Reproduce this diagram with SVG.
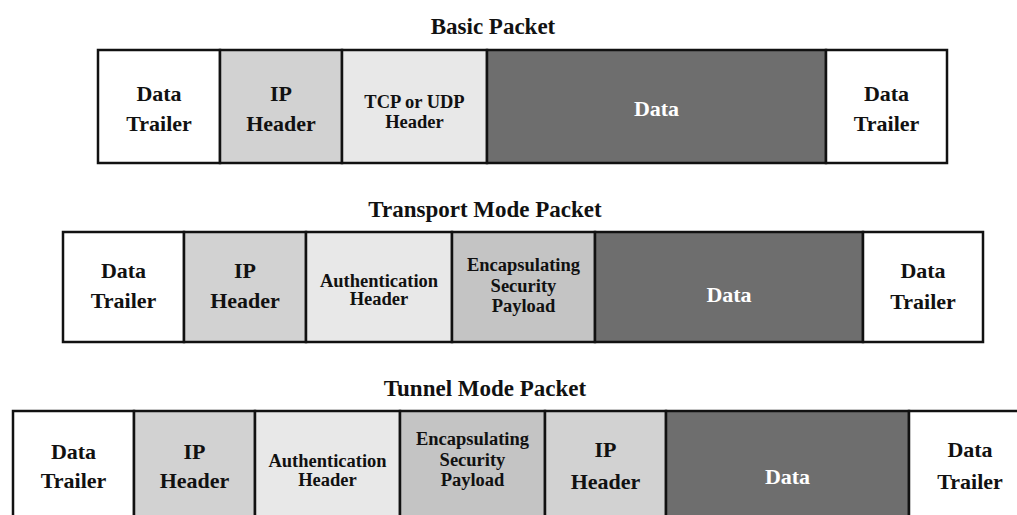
<svg xmlns="http://www.w3.org/2000/svg" width="1017" height="515" viewBox="0 0 1017 515">
<style>
text{font-family:"Liberation Serif","Times New Roman",serif;font-weight:bold;text-anchor:middle;fill:#111}
.title{font-size:23px}
.big{font-size:22px}
.sm{font-size:18.5px}
.wt{fill:#fff}
.cell{stroke:#111;stroke-width:2.5}
.white{fill:#fff}
.ip{fill:#d2d2d2}
.light{fill:#e8e8e8}
.esp{fill:#c4c4c4}
.dark{fill:#6e6e6e}
</style>
<rect width="1017" height="515" fill="#fff"/>
<g id="basic">
<text class="title" x="493" y="34">Basic Packet</text>
<g id="b-trailer1"><rect class="cell white" x="98" y="50" width="122" height="113"/><text class="big" x="159" y="101">Data</text><text class="big" x="159" y="131">Trailer</text></g>
<g id="b-ip"><rect class="cell ip" x="220" y="50" width="122" height="113"/><text class="big" x="281" y="101">IP</text><text class="big" x="281" y="131">Header</text></g>
<g id="b-tcp"><rect class="cell light" x="342" y="50" width="145" height="113"/><text class="sm" x="414.5" y="108">TCP or UDP</text><text class="sm" x="414.5" y="128">Header</text></g>
<g id="b-data"><rect class="cell dark" x="487" y="50" width="339" height="113"/><text class="big wt" x="656.5" y="116">Data</text></g>
<g id="b-trailer2"><rect class="cell white" x="826" y="50" width="121" height="113"/><text class="big" x="886.5" y="101">Data</text><text class="big" x="886.5" y="131">Trailer</text></g>
</g>
<g id="transport">
<text class="title" x="485" y="217">Transport Mode Packet</text>
<g id="t-trailer1"><rect class="cell white" x="63" y="232" width="121" height="110"/><text class="big" x="123.5" y="278">Data</text><text class="big" x="123.5" y="308">Trailer</text></g>
<g id="t-ip"><rect class="cell ip" x="184" y="232" width="122" height="110"/><text class="big" x="245" y="278">IP</text><text class="big" x="245" y="308">Header</text></g>
<g id="t-auth"><rect class="cell light" x="306" y="232" width="146" height="110"/><text class="sm" x="379" y="287">Authentication</text><text class="sm" x="379" y="305">Header</text></g>
<g id="t-esp"><rect class="cell esp" x="452" y="232" width="143" height="110"/><text class="sm" x="523.5" y="271">Encapsulating</text><text class="sm" x="523.5" y="291.5">Security</text><text class="sm" x="523.5" y="312">Payload</text></g>
<g id="t-data"><rect class="cell dark" x="595" y="232" width="268" height="110"/><text class="big wt" x="729" y="302">Data</text></g>
<g id="t-trailer2"><rect class="cell white" x="863" y="232" width="120" height="110"/><text class="big" x="923" y="278">Data</text><text class="big" x="923" y="309">Trailer</text></g>
</g>
<g id="tunnel">
<text class="title" x="485" y="396">Tunnel Mode Packet</text>
<g id="u-trailer1"><rect class="cell white" x="13" y="411" width="121" height="120"/><text class="big" x="73.5" y="459">Data</text><text class="big" x="73.5" y="488">Trailer</text></g>
<g id="u-ip1"><rect class="cell ip" x="134" y="411" width="121" height="120"/><text class="big" x="194.5" y="459">IP</text><text class="big" x="194.5" y="488">Header</text></g>
<g id="u-auth"><rect class="cell light" x="255" y="411" width="145" height="120"/><text class="sm" x="327.5" y="467">Authentication</text><text class="sm" x="327.5" y="486">Header</text></g>
<g id="u-esp"><rect class="cell esp" x="400" y="411" width="145" height="120"/><text class="sm" x="472.5" y="445">Encapsulating</text><text class="sm" x="472.5" y="465.5">Security</text><text class="sm" x="472.5" y="486">Payload</text></g>
<g id="u-ip2"><rect class="cell ip" x="545" y="411" width="121" height="120"/><text class="big" x="605.5" y="457">IP</text><text class="big" x="605.5" y="489">Header</text></g>
<g id="u-data"><rect class="cell dark" x="666" y="411" width="243" height="120"/><text class="big wt" x="787.5" y="484">Data</text></g>
<g id="u-trailer2"><rect class="cell white" x="909" y="411" width="122" height="120"/><text class="big" x="970" y="457">Data</text><text class="big" x="970" y="489">Trailer</text></g>
</g>
</svg>
